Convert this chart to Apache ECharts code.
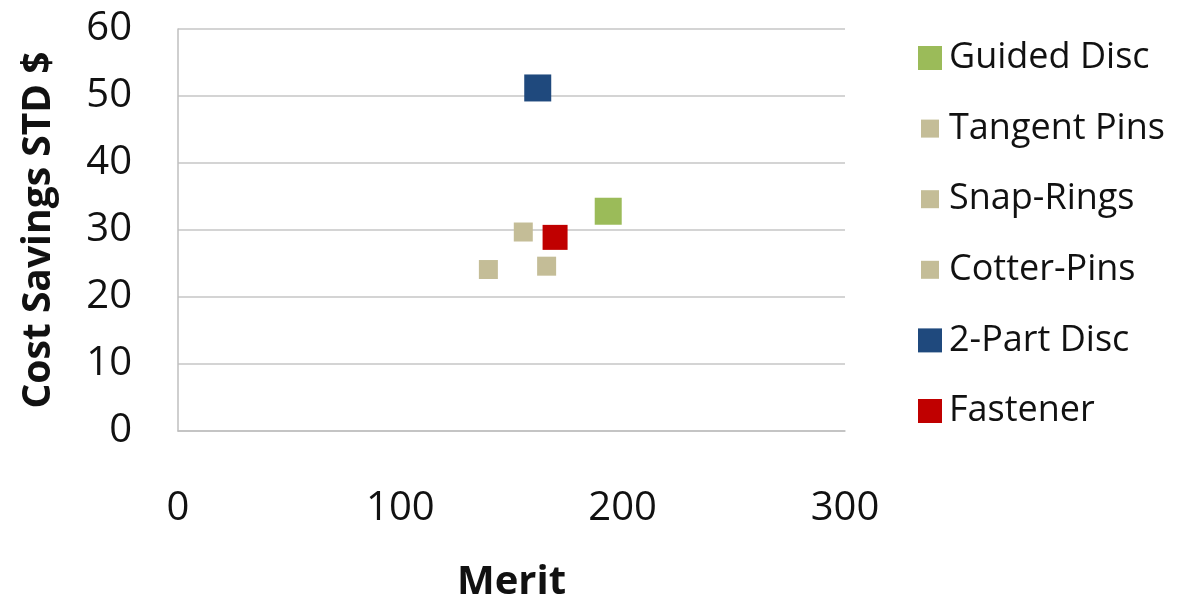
<!DOCTYPE html>
<html>
<head>
<meta charset="utf-8">
<script src="https://cdn.jsdelivr.net/npm/echarts@6/dist/echarts.min.js"></script>
<style>html,body{margin:0;padding:0;background:#fff}#c{width:1185px;height:604px}</style>
</head>
<body>
<div id="c"></div>
<script>
var seriesNames = ['Guided Disc', 'Tangent Pins', 'Snap-Rings', 'Cotter-Pins', '2-Part Disc', 'Fastener'];
var merit = [193.5, 139.6, 155.3, 165.8, 161.8, 169.6];
var costSavings = [32.8, 24.1, 29.7, 24.6, 51.2, 28.9];
var xTicks = [0, 100, 200, 300];
var yTicks = [0, 10, 20, 30, 40, 50, 60];

var colors = ['#9bbb59', '#c4bd97', '#c4bd97', '#c4bd97', '#1f497d', '#c00000'];
var sizes = [27, 19, 19, 19, 27, 25];
var FONT = '"Open Sans", sans-serif';

function smallIcon(color) {
  var svg = '<svg xmlns="http://www.w3.org/2000/svg" width="24" height="24" viewBox="0 0 24 24"><rect x="3" y="3" width="18" height="18" fill="' + color + '"/></svg>';
  return 'image://data:image/svg+xml;charset=utf-8,' + encodeURIComponent(svg);
}

var series = seriesNames.map(function (n, i) {
  return {
    name: n,
    type: 'scatter',
    symbol: 'rect',
    symbolSize: sizes[i],
    itemStyle: { color: colors[i], opacity: 1 },
    data: [[merit[i], costSavings[i]]]
  };
});

var legendData = seriesNames.map(function (n, i) {
  return { name: n, icon: sizes[i] < 22 ? smallIcon(colors[i]) : 'rect' };
});

var chart = echarts.init(document.getElementById('c'));
chart.setOption({
  animation: false,
  textStyle: { fontFamily: FONT },
  grid: { left: 178, right: 340, top: 29, bottom: 173, containLabel: false, outerBoundsMode: 'none' },
  legend: {
    orient: 'vertical',
    left: 913,
    top: 35,
    itemWidth: 24,
    itemHeight: 24,
    itemGap: 34.6,
    data: legendData,
    textStyle: { fontSize: 36, fontFamily: FONT, color: '#111', lineHeight: 36, padding: [0, 0, 0, 2] }
  },
  xAxis: {
    type: 'value',
    min: xTicks[0],
    max: xTicks[xTicks.length - 1],
    interval: 100,
    name: 'Merit',
    nameLocation: 'middle',
    nameGap: 132,
    nameTextStyle: { fontSize: 40, fontWeight: 'bold', color: '#111', fontFamily: FONT },
    axisLine: { show: true, lineStyle: { color: '#bfbfbf', width: 1.5 } },
    axisTick: { show: false },
    splitLine: { show: false },
    axisLabel: { fontSize: 40, color: '#111', margin: 58, fontFamily: FONT }
  },
  yAxis: {
    type: 'value',
    min: yTicks[0],
    max: yTicks[yTicks.length - 1],
    interval: 10,
    name: 'Cost Savings STD $',
    nameLocation: 'middle',
    nameGap: 120,
    nameTextStyle: { fontSize: 39, fontWeight: 'bold', color: '#111', fontFamily: FONT },
    axisLine: { show: true, lineStyle: { color: '#bfbfbf', width: 1.5 } },
    axisTick: { show: false },
    splitLine: { show: true, lineStyle: { color: '#c6c6c6', width: 1.5 } },
    axisLabel: { fontSize: 40, color: '#111', margin: 46, fontFamily: FONT }
  },
  series: series
});
</script>
</body>
</html>
